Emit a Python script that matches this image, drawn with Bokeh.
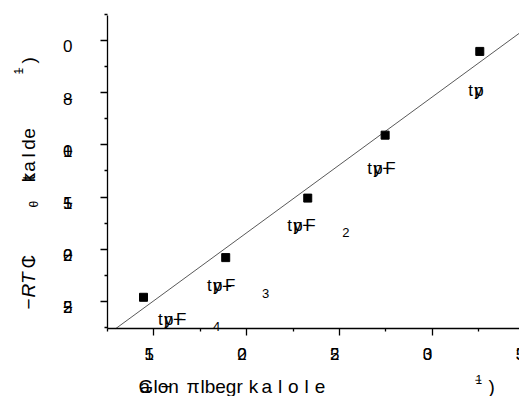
from math import pi

from bokeh.embed import file_html
from bokeh.models import FixedTicker, Label, Range1d
from bokeh.plotting import figure
from bokeh.resources import INLINE

# measured binding energies of the fluoromethane series
x_vals = [14.44, 18.87, 23.29, 27.46, 32.56]
y_vals = [-24.6, -20.8, -15.1, -9.07, -1.05]

# least-squares fit line through the series
fit_slope = 1.301
fit_intercept = -44.44

x_ticks = [15, 20, 25, 30, 35]
x_minor = [12.5, 17.5, 22.5, 27.5, 32.5]
x_tick_text = [["1", "5"], ["2", "0"], ["2", "5"], ["3", "0"], ["3", "5"]]

y_ticks = [0, -5, -10, -15, -20, -25]
y_minor = [2.5, -2.5, -7.5, -12.5, -17.5, -22.5, -27.5]
y_tick_text = [["0"], ["−", "8"], ["−", "1", "0"], ["−", "1", "5"],
               ["−", "2", "0"], ["−", "2", "5"]]

point_text = ["tpF", "tpF", "tpF", "tpF", "tp"]
point_sub = ["4", "3", "2", "", ""]

FONT = "Liberation Sans"
W, H = 519, 396
# data extent of the axes and where the axes sit on the canvas (px)
X0, X1 = 12.5, 34.7
Y0, Y1 = -27.59, 2.39
AX_L, AX_R, AX_T, AX_B = 107, 519, 15, 328

sx = (AX_R - AX_L) / (X1 - X0)
sy = (AX_B - AX_T) / (Y1 - Y0)
x_range = Range1d(X0 - AX_L / sx, X1 + (W - AX_R) / sx)
y_range = Range1d(Y0 - (H - AX_B) / sy, Y1 + AX_T / sy)

p = figure(width=W, height=H, x_range=x_range, y_range=y_range,
           output_backend="svg", toolbar_location=None,
           min_border_left=0, min_border_right=0,
           min_border_top=0, min_border_bottom=0)
p.outline_line_color = None
p.grid.visible = False
p.background_fill_color = "white"
p.border_fill_color = "white"

p.xaxis.ticker = FixedTicker(ticks=x_ticks, minor_ticks=x_minor)
p.yaxis.ticker = FixedTicker(ticks=y_ticks, minor_ticks=y_minor)
p.xaxis.fixed_location = Y0
p.yaxis.fixed_location = X0
p.xaxis.bounds = (X0, X1)
p.yaxis.bounds = (Y0, Y1)
p.xaxis.major_label_overrides = {t: "" for t in x_ticks}
p.yaxis.major_label_overrides = {t: "" for t in y_ticks}
for ax in (p.xaxis, p.yaxis):
    ax.axis_line_width = 1.3
    ax.axis_line_color = "black"
    ax.major_tick_line_color = "black"
    ax.minor_tick_line_color = "black"
    ax.major_tick_line_width = 1.3
    ax.minor_tick_line_width = 1.3
    ax.major_tick_in = 0
    ax.major_tick_out = 7
    ax.minor_tick_in = 0
    ax.minor_tick_out = 3

# fit line, from where it meets the x axis to the right end of the axis
fit_x = [(Y0 - fit_intercept) / fit_slope, X1]
fit_y = [fit_intercept + fit_slope * v for v in fit_x]
p.line(fit_x, fit_y, line_color="#111111", line_width=0.7)

p.scatter(x_vals, y_vals, marker="square", size=8, color="black")


def put(text, x, y, dx=0, dy=0, size="17px", angle=0.0, style="normal",
        align="left"):
    p.add_layout(Label(x=x, y=y, x_offset=dx, y_offset=dy, text=text,
                       text_font=FONT, text_font_size=size, text_font_style=style,
                       text_color="black", text_align=align,
                       text_baseline="alphabetic", angle=angle))


def put_px(text, cx, cy, size="19px", angle=0.0, style="normal", align="left"):
    # canvas pixel position, measured from the axes' corner
    put(text, X0, Y0, cx - AX_L, AX_B - cy, size, angle, style, align)


# tick labels: every glyph of a label set at the same origin
for t, chars in zip(x_ticks, x_tick_text):
    for ch in chars:
        put(ch, t, Y0, dx=-9.4, dy=-25)
for t, chars in zip(y_ticks, y_tick_text):
    for ch in chars:
        put(ch, X0, t, dx=-44.5, dy=-6)

# point labels
label_dx = [14.6, -18.6, -20.6, -18, -11.6]
label_dy = [-22, -28, -27, -33, -39]
for xv, yv, txt, sub, ldx, ldy in zip(x_vals, y_vals, point_text, point_sub,
                                       label_dx, label_dy):
    put("t", xv, yv, ldx, ldy)
    put("p", xv, yv, ldx + 6, ldy)
    put("y", xv, yv, ldx + 6, ldy)
    if "F" in txt:
        put("F", xv, yv, ldx + 18, ldy)
        put("−", xv, yv, ldx + 15, ldy)
    if sub:
        put(sub, xv, yv, ldx + 55, ldy - 7.5, size="13px")

# x axis title
put_px("G", 138, 386)
put_px("a", 139, 386)
put_px("lon", 153, 386)
put_px("−", 160, 386)
put_px("π", 186, 386)
put_px("lbegr", 200, 386)
for i, ch in enumerate("kalole"):
    put_px(ch, 253 + 13.3 * i, 386, align="center")
put_px("−", 474, 379, size="12px")
put_px("1", 475, 379, size="12px")
put_px(")", 488, 386)

# y axis title
R = pi / 2
put_px("−", 28, 309, angle=R)
put_px("RT", 28, 297, angle=R, style="italic")
put_px("C", 28, 268, angle=R)
put_px("l", 28, 262, angle=R)
put_px("θ", 33, 207, size="12px", angle=R)
for i, ch in enumerate("kalde"):
    put_px(ch, 28, 177 - 11 * i, angle=R, align="center")
put_px("t", 28, 177, angle=R, align="center")
put_px("−", 18, 74, size="12px", angle=R)
put_px("1", 18, 74, size="12px", angle=R)
put_px(")", 28, 63, angle=R)

open("out.html", "w").write(file_html(p, INLINE))
